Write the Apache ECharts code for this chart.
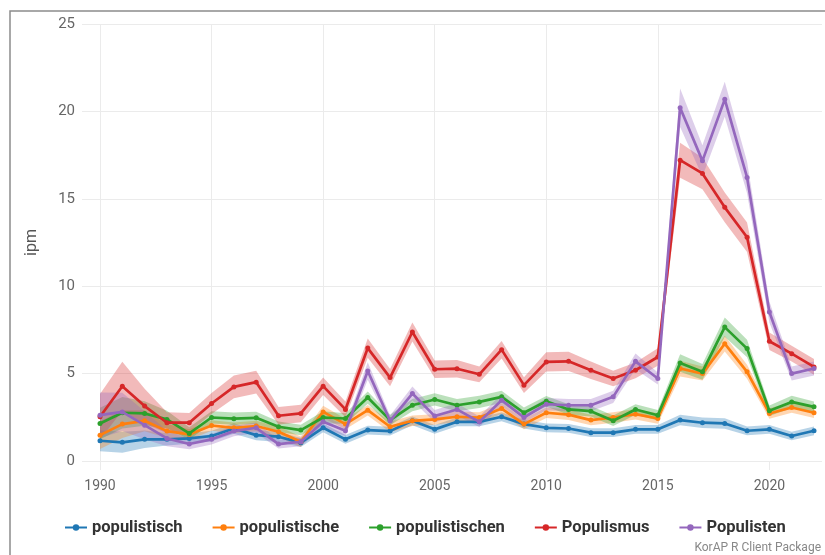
<!DOCTYPE html>
<html>
<head>
<meta charset="utf-8">
<script src="https://cdn.jsdelivr.net/npm/echarts@6/dist/echarts.min.js"></script>
<style>
html,body{margin:0;padding:0;background:#fff;}
#chart{width:825px;height:555px;}
</style>
</head>
<body>
<div id="chart"></div>
<script>
const years = [1990,1991,1992,1993,1994,1995,1996,1997,1998,1999,2000,2001,2002,2003,2004,2005,2006,2007,2008,2009,2010,2011,2012,2013,2014,2015,2016,2017,2018,2019,2020,2021,2022];
const seriesNames = ['populistisch','populistische','populistischen','Populismus','Populisten'];
const colors = ['#1f77b4','#ff7f0e','#2ca02c','#d62728','#9467bd'];
const yTicks = [0,5,10,15,20,25];
const xTicks = [1990,1995,2000,2005,2010,2015,2020];

const populistisch   = [1.16,1.07,1.24,1.24,1.29,1.43,1.86,1.48,1.39,1.05,1.90,1.24,1.77,1.71,2.30,1.81,2.24,2.24,2.53,2.11,1.90,1.86,1.62,1.62,1.81,1.81,2.34,2.19,2.15,1.73,1.81,1.43,1.73];
const populistische  = [1.48,2.11,2.30,1.71,1.52,2.03,1.90,2.00,1.67,1.10,2.81,2.11,2.91,1.96,2.30,2.38,2.53,2.49,3.00,2.11,2.76,2.65,2.34,2.49,2.68,2.43,5.29,5.00,6.71,5.10,2.72,3.06,2.76];
const populistischen = [2.15,2.76,2.72,2.38,1.58,2.49,2.42,2.47,1.96,1.77,2.49,2.43,3.63,2.34,3.19,3.52,3.19,3.38,3.67,2.76,3.42,2.95,2.85,2.30,2.95,2.62,5.61,5.10,7.66,6.43,2.87,3.38,3.10];
const Populismus     = [2.53,4.28,3.14,2.19,2.19,3.29,4.24,4.51,2.59,2.72,4.28,2.95,6.46,4.77,7.38,5.25,5.28,4.96,6.37,4.34,5.67,5.70,5.19,4.72,5.19,5.95,17.21,16.45,14.51,12.80,6.85,6.14,5.38];
const Populisten     = [2.62,2.81,2.05,1.29,0.97,1.24,1.71,1.90,0.97,1.10,2.24,1.73,5.15,2.30,3.86,2.57,2.95,2.24,3.48,2.49,3.25,3.19,3.19,3.67,5.70,4.72,20.21,17.17,20.69,16.22,8.52,5.00,5.29];

// confidence band half-widths (read from the shaded areas)
const hw_populistisch   = [0.6,0.6,0.5,0.35,0.3,0.3,0.3,0.3,0.3,0.25,0.25,0.25,0.25,0.25,0.25,0.25,0.25,0.25,0.25,0.25,0.25,0.25,0.25,0.25,0.25,0.25,0.3,0.3,0.3,0.25,0.25,0.25,0.25];
const hw_populistische  = [0.8,0.8,0.6,0.4,0.3,0.3,0.3,0.3,0.3,0.3,0.35,0.3,0.3,0.3,0.3,0.3,0.3,0.3,0.3,0.3,0.3,0.3,0.3,0.3,0.3,0.3,0.45,0.4,0.45,0.4,0.3,0.3,0.3];
const hw_populistischen = [0.9,0.9,0.7,0.5,0.35,0.35,0.35,0.35,0.3,0.3,0.35,0.3,0.35,0.3,0.35,0.35,0.35,0.35,0.35,0.3,0.3,0.3,0.3,0.3,0.3,0.3,0.5,0.45,0.55,0.5,0.3,0.35,0.3];
const hw_Populismus     = [1.3,1.4,1.0,0.6,0.55,0.6,0.65,0.65,0.5,0.5,0.5,0.45,0.55,0.5,0.55,0.5,0.5,0.45,0.5,0.45,0.55,0.55,0.5,0.45,0.45,0.5,1.0,0.9,0.85,0.85,0.5,0.45,0.45];
const hw_Populisten     = [1.3,1.1,0.8,0.45,0.3,0.3,0.3,0.3,0.25,0.25,0.35,0.3,0.5,0.3,0.4,0.35,0.35,0.3,0.35,0.3,0.35,0.35,0.35,0.35,0.45,0.35,1.1,0.9,1.0,0.9,0.6,0.4,0.4];

const values = [populistisch,populistische,populistischen,Populismus,Populisten];
const halfw  = [hw_populistisch,hw_populistische,hw_populistischen,hw_Populismus,hw_Populisten];

function hexA(hex,a){
  const r=parseInt(hex.slice(1,3),16),g=parseInt(hex.slice(3,5),16),b=parseInt(hex.slice(5,7),16);
  return 'rgba('+r+','+g+','+b+','+a+')';
}

const series = [];
values.forEach((v,i)=>{
  const h = halfw[i];
  series.push({
    name:'_band'+i, type:'custom', xAxisIndex:1, yAxisIndex:1,
    data:[[years[0], v[0]]], silent:true, z:1, clip:true,
    renderItem:function(params, api){
      const pts = [];
      for (let j=0;j<years.length;j++) pts.push(api.coord([years[j], v[j]+h[j]]));
      for (let j=years.length-1;j>=0;j--) pts.push(api.coord([years[j], v[j]-h[j]]));
      return {type:'polygon', shape:{points:pts}, style:{fill:hexA(colors[i],0.32), stroke:null}};
    }
  });
});
values.forEach((v,i)=>{
  series.push({
    name:seriesNames[i], type:'line', xAxisIndex:1, yAxisIndex:1,
    data: years.map((y,j)=>[y, v[j]]),
    symbol:'circle', symbolSize:5, showSymbol:true,
    itemStyle:{color:colors[i]},
    lineStyle:{color:colors[i], width:2.7},
    z:3+i
  });
});

const chart = echarts.init(document.getElementById('chart'), null, {renderer:'canvas'});
chart.setOption({
  animation:false,
  backgroundColor:'#fff',
  color:colors,
  grid:[
    {left:82, right:3, top:24, bottom:94},
    {left:100, right:11, top:24, bottom:94}
  ],
  xAxis:[
    {gridIndex:0, type:'value', min:0, max:1, show:false},
    {gridIndex:1, type:'value', min:1990, max:2022, interval:5,
      axisLine:{show:false},
      axisTick:{show:true, length:9, customValues:xTicks, lineStyle:{color:'#ebebeb', width:1}},
      axisLabel:{color:'#666', fontSize:14, fontFamily:'Roboto', margin:18, customValues:xTicks,
        formatter:function(v){return v%5===0 ? String(v) : '';}},
      splitLine:{show:true, showMaxLine:false, lineStyle:{color:'#ebebeb', width:1}}
    }
  ],
  yAxis:[
    {gridIndex:0, type:'value', min:yTicks[0], max:yTicks[yTicks.length-1], interval:5,
      axisLine:{show:false}, axisTick:{show:false},
      axisLabel:{color:'#666', fontSize:15, fontFamily:'Roboto', margin:7},
      splitLine:{show:true, lineStyle:{color:'#ebebeb', width:1}},
      name:'ipm', nameLocation:'middle', nameGap:42,
      nameTextStyle:{color:'#555', fontSize:16, fontFamily:'Roboto'}
    },
    {gridIndex:1, type:'value', min:0, max:25, show:false, splitLine:{show:false}}
  ],
  legend:{
    data:seriesNames, top:514, left:59,
    itemWidth:22, itemHeight:8, itemGap:29,
    textStyle:{color:'#333', fontSize:16.5, fontWeight:'bold', fontFamily:'Roboto'}
  },
  graphic:[
    {type:'rect', shape:{x:10, y:11, width:1000, height:1000},
      style:{fill:'none', stroke:'#8c8c8c', lineWidth:1.5}, silent:true},
    {type:'text', right:4, bottom:1,
      style:{text:'KorAP R Client Package', fill:'#888', font:'12px Roboto'}}
  ],
  series:series
});
</script>
</body>
</html>
